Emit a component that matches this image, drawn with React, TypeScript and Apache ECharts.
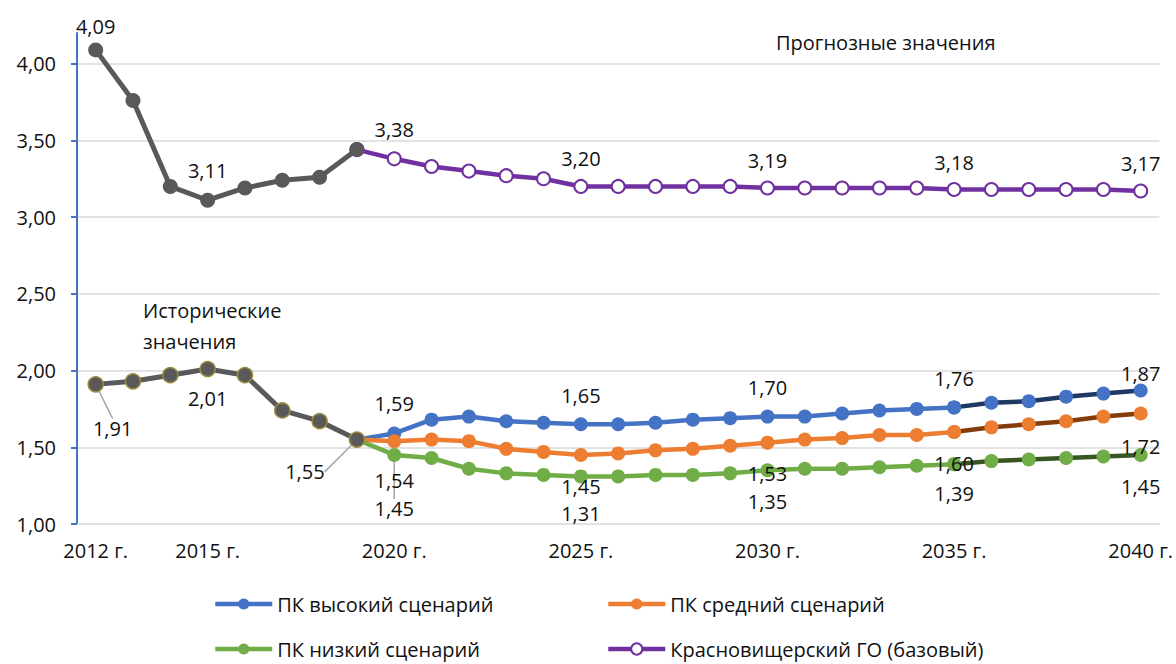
import React, { useEffect, useRef } from "react";
import * as echarts from "echarts";

const YEARS = [
  "2012", "2013", "2014", "2015", "2016", "2017", "2018", "2019", "2020",
  "2021", "2022", "2023", "2024", "2025", "2026", "2027", "2028", "2029",
  "2030", "2031", "2032", "2033", "2034", "2035", "2036", "2037", "2038",
  "2039", "2040",
];
const LABELED_YEARS = ["2012", "2015", "2020", "2025", "2030", "2035", "2040"];
const Y_TICKS = [1, 1.5, 2, 2.5, 3, 3.5, 4];

// 2012–2019
const HIST_UPPER = [4.09, 3.76, 3.2, 3.11, 3.19, 3.24, 3.26, 3.44];
const HIST_LOWER = [1.91, 1.93, 1.97, 2.01, 1.97, 1.74, 1.67, 1.55];
// 2019–2040
const BASE = [3.44, 3.38, 3.33, 3.3, 3.27, 3.25, 3.2, 3.2, 3.2, 3.2, 3.2, 3.19, 3.19, 3.19, 3.19, 3.19, 3.18, 3.18, 3.18, 3.18, 3.18, 3.17];
const HIGH = [1.55, 1.59, 1.68, 1.7, 1.67, 1.66, 1.65, 1.65, 1.66, 1.68, 1.69, 1.7, 1.7, 1.72, 1.74, 1.75, 1.76, 1.79, 1.8, 1.83, 1.85, 1.87];
const MID = [1.55, 1.54, 1.55, 1.54, 1.49, 1.47, 1.45, 1.46, 1.48, 1.49, 1.51, 1.53, 1.55, 1.56, 1.58, 1.58, 1.6, 1.63, 1.65, 1.67, 1.7, 1.72];
const LOW = [1.55, 1.45, 1.43, 1.36, 1.33, 1.32, 1.31, 1.31, 1.32, 1.32, 1.33, 1.35, 1.36, 1.36, 1.37, 1.38, 1.39, 1.41, 1.42, 1.43, 1.44, 1.45];

const NAME_HIGH = "ПК высокий сценарий";
const NAME_MID = "ПК средний сценарий";
const NAME_LOW = "ПК низкий сценарий";
const NAME_BASE = "Красновищерский ГО (базовый)";

const FONT = "'Open Sans', sans-serif";
const FS = 20;

type Spec = { pos: "top" | "bottom"; d: number; dx?: number; move?: [number, number] };

const L_UPPER: Record<string, Spec> = { "2012": { pos: "top", d: 6 }, "2015": { pos: "top", d: 12 } };
const L_LOWER: Record<string, Spec> = {
  "2012": { pos: "bottom", d: 4, move: [17, 22] },
  "2015": { pos: "bottom", d: 11 },
  "2019": { pos: "bottom", d: 4, move: [-52, 10] },
};
const L_BASE: Record<string, Spec> = {
  "2020": { pos: "top", d: 12 }, "2025": { pos: "top", d: 10 }, "2030": { pos: "top", d: 10 },
  "2035": { pos: "top", d: 10 }, "2040": { pos: "top", d: 10, dx: -6 },
};
const L_HIGH: Record<string, Spec> = {
  "2020": { pos: "top", d: 13 }, "2025": { pos: "top", d: 12 }, "2030": { pos: "top", d: 12 },
  "2035": { pos: "top", d: 12 }, "2040": { pos: "top", d: 0, dx: -9 },
};
const L_MID: Record<string, Spec> = {
  "2020": { pos: "bottom", d: 22 }, "2025": { pos: "bottom", d: 15 }, "2030": { pos: "bottom", d: 14 },
  "2035": { pos: "bottom", d: 15 }, "2040": { pos: "bottom", d: 16, dx: -4 },
};
const L_LOW: Record<string, Spec> = {
  "2020": { pos: "bottom", d: 4, move: [0, 33] }, "2025": { pos: "bottom", d: 20 }, "2030": { pos: "bottom", d: 14 },
  "2035": { pos: "bottom", d: 12 }, "2040": { pos: "bottom", d: 15, dx: -2 },
};

function buildData(values: number[], firstYear: string, from: string, to: string, spec: Record<string, Spec>) {
  const start = YEARS.indexOf(firstYear);
  return YEARS.map((y, i) => {
    const k = i - start;
    if (k < 0 || k >= values.length || +y < +from || +y > +to) return null;
    const s = spec[y];
    const item: any = { value: values[k] };
    if (s) {
      item.label = { show: true, position: s.pos, distance: s.d, offset: [s.dx || 0, 0] };
      if (s.move) item.labelLine = { show: true, lineStyle: { color: "#a6a6a6", width: 1.5 } };
    }
    return item;
  });
}

function layoutFor(spec: Record<string, Spec>) {
  return (p: any) => {
    const s = spec[YEARS[p.dataIndex]];
    if (s && s.move) return { dx: s.move[0], dy: s.move[1] };
    return {};
  };
}

const labelBase = {
  show: false,
  fontSize: FS,
  fontFamily: FONT,
  color: "#111",
  formatter: (p: any) => (typeof p.value === "number" ? p.value.toFixed(2).replace(".", ",") : ""),
};

function lineSeries(name: string, data: any[], lineColor: string, markColor: string, spec: Record<string, Spec>, opts: any = {}) {
  return {
    type: "line",
    name,
    data,
    symbol: "circle",
    symbolSize: 14,
    lineStyle: { color: lineColor, width: 4.5 },
    itemStyle: { color: markColor },
    label: labelBase,
    labelLine: { show: false },
    labelLayout: layoutFor(spec),
    emphasis: { disabled: true },
    ...opts,
  };
}

export default function App() {
  const ref = useRef<HTMLDivElement>(null);
  useEffect(() => {
    document.body.style.margin = "0";
    const chart = echarts.init(ref.current!, null, { renderer: "svg" });
    const series: any[] = [
      lineSeries(NAME_BASE, buildData(BASE, "2019", "2019", "2040", L_BASE), "#7030a0", "#fff", L_BASE, {
        symbolSize: 13,
        itemStyle: { color: "#fff", borderColor: "#7030a0", borderWidth: 2 },
      }),
      lineSeries(NAME_HIGH, buildData(HIGH, "2019", "2019", "2035", L_HIGH), "#4472c4", "#4472c4", L_HIGH),
      lineSeries("high-late", buildData(HIGH, "2019", "2035", "2040", { "2040": L_HIGH["2040"] }), "#203864", "#4472c4", { "2040": L_HIGH["2040"] }),
      lineSeries(NAME_MID, buildData(MID, "2019", "2019", "2035", L_MID), "#ed7d31", "#ed7d31", L_MID),
      lineSeries("mid-late", buildData(MID, "2019", "2035", "2040", { "2040": L_MID["2040"] }), "#843c0c", "#ed7d31", { "2040": L_MID["2040"] }),
      lineSeries(NAME_LOW, buildData(LOW, "2019", "2019", "2035", L_LOW), "#70ad47", "#70ad47", L_LOW),
      lineSeries("low-late", buildData(LOW, "2019", "2035", "2040", { "2040": L_LOW["2040"] }), "#375623", "#70ad47", { "2040": L_LOW["2040"] }),
      lineSeries("hist-upper", buildData(HIST_UPPER, "2012", "2012", "2019", L_UPPER), "#595959", "#595959", L_UPPER, {
        symbolSize: 15,
        lineStyle: { color: "#595959", width: 5 },
      }),
      lineSeries("hist-lower", buildData(HIST_LOWER, "2012", "2012", "2019", L_LOWER), "#595959", "#595959", L_LOWER, {
        symbolSize: 15,
        lineStyle: { color: "#595959", width: 5 },
        itemStyle: { color: "#595959", borderColor: "#9a8c3c", borderWidth: 1.5 },
      }),
    ];
    const legendCommon = {
      orient: "horizontal",
      padding: 0,
      itemWidth: 57,
      itemHeight: 14,
      lineStyle: { width: 4.5 },
      textStyle: { fontSize: FS, fontFamily: FONT, color: "#111" },
      selectedMode: false,
    };
    chart.setOption({
      animation: false,
      textStyle: { fontFamily: FONT },
      grid: { left: 77, right: 10, top: 33, bottom: 140, containLabel: false },
      xAxis: {
        type: "category",
        data: YEARS,
        boundaryGap: true,
        axisLine: { show: true, lineStyle: { color: "#d9d9d9", width: 1.5 } },
        axisTick: { show: false },
        axisLabel: {
          interval: (_i: number, v: string) => LABELED_YEARS.includes(v),
          formatter: (v: string) => v + " г.",
          fontSize: FS,
          fontFamily: FONT,
          color: "#111",
          margin: 16,
        },
      },
      yAxis: {
        type: "value",
        min: 1,
        max: 4.2,
        interval: 0.5,
        axisLine: { show: true, lineStyle: { color: "#4472c4", width: 2 } },
        axisTick: { show: true, length: 6, lineStyle: { color: "#4472c4", width: 2 }, customValues: Y_TICKS },
        axisLabel: {
          customValues: Y_TICKS,
          formatter: (v: number) => v.toFixed(2).replace(".", ","),
          fontSize: FS,
          fontFamily: FONT,
          color: "#111",
          margin: 21,
        },
        splitLine: { show: true, showMinLine: false, lineStyle: { color: "#d9d9d9", width: 1.5 } },
      },
      legend: [
        { ...legendCommon, left: 213, top: 594, data: [NAME_HIGH] },
        { ...legendCommon, left: 606, top: 594, data: [NAME_MID] },
        { ...legendCommon, left: 213, top: 639, data: [NAME_LOW] },
        { ...legendCommon, left: 606, top: 639, data: [NAME_BASE] },
      ],
      graphic: [
        { type: "text", left: 776, top: 32, style: { text: "Прогнозные значения", fontSize: FS, fontFamily: FONT, fill: "#111" } },
        { type: "text", left: 143, top: 295, style: { text: "Исторические\nзначения", fontSize: FS, lineHeight: 31, fontFamily: FONT, fill: "#111" } },
      ],
      series,
    });
    return () => chart.dispose();
  }, []);
  return <div ref={ref} style={{ width: 1176, height: 664, position: "absolute", left: 0, top: 0 }} />;
}
